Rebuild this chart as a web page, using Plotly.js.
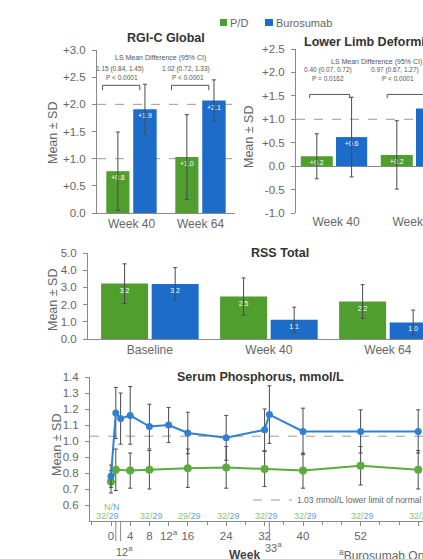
<!DOCTYPE html>
<html>
<head>
<meta charset="utf-8">
<script src="https://cdn.plot.ly/plotly-3.0.1.min.js"></script>
<style>html,body{margin:0;padding:0;background:#fff;overflow:hidden}#chart{width:423px;height:559px}</style>
</head>
<body>
<div id="chart"></div>
<script>
// ---------- data ----------
const barWeeks = ['Week 40', 'Week 64'];
const rgiPD = [0.77, 1.03];
const rgiPDsd = [0.72, 0.78];
const rgiBuro = [1.91, 2.07];
const rgiBuroSd = [0.46, 0.38];
const rgiDiff = ['1.15 (0.84, 1.45)', '1.02 (0.72, 1.33)'];
const rgiP = ['P < 0.0001', 'P < 0.0001'];

const llPD = [0.21, 0.24];
const llPDsd = [0.48, 0.73];
const llBuro = [0.62, 1.23];
const llBuroSd = [0.85, 0.80];
const llDiff = ['0.40 (0.07, 0.72)', '0.97 (0.67, 1.27)'];
const llP = ['P = 0.0162', 'P < 0.0001'];

const rssCats = ['Baseline', 'Week 40', 'Week 64'];
const rssPD = [3.22, 2.47, 2.18];
const rssPDsd = [1.15, 1.08, 0.98];
const rssBuro = [3.2, 1.12, 0.96];
const rssBuroSd = [0.95, 0.73, 0.72];

const phosWeeksBuro = [0, 1, 2, 4, 8, 12, 16, 24, 32, 33, 40, 52, 64];
const phosBuro = [0.78, 1.175, 1.14, 1.16, 1.09, 1.10, 1.05, 1.02, 1.07, 1.165, 1.06, 1.06, 1.06];
const phosBuroSd = [0.07, 0.16, 0.16, 0.18, 0.14, 0.11, 0.13, 0.14, 0.13, 0.18, 0.145, 0.135, 0.135];
const phosWeeksPD = [0, 1, 4, 8, 16, 24, 32, 40, 52, 64];
const phosPD = [0.745, 0.82, 0.815, 0.82, 0.83, 0.835, 0.825, 0.815, 0.845, 0.82];
const phosPDsd = [0.07, 0.13, 0.11, 0.12, 0.12, 0.13, 0.11, 0.11, 0.12, 0.12];
const lln = 1.03;

const phosTickVals = [0, 4, 8, 12, 16, 24, 32, 40, 52, 64];
const phosTickText = ['0', '4', '8', '12<sup>a</sup>', '16', '24', '32', '40', '52', '64'];
const buroOnlyWeeks = [1, 2, 33];

const nWeeks = [0, 8, 16, 24, 32, 40, 52, 64];
const nPD = [32, 32, 29, 32, 32, 32, 32, 32];
const nBuro = [29, 29, 29, 29, 29, 29, 29, 29];

// ---------- style ----------
const W = 423, H = 559;
const fx = p => p / W;
const fy = p => 1 - p / H;
const GREEN = '#4f9e2e', BLUE = '#1d6cc9';
const LGREEN = '#5cab3e', LBLUE = '#2f80d3';
const GRAY = '#666', AX = '#8a8a8a', ERR = '#4a4a4a';
const FONT = 'Liberation Sans, Arial, sans-serif';
const sgn = v => (v > 0 ? '+' : '') + v.toFixed(1);

function barTrace(x, y, sd, color, xa, ya, offset, width, labelFn, name) {
  return {
    type: 'bar', x: x, y: y, xaxis: xa, yaxis: ya, name: name, showlegend: false,
    marker: {color: color, line: {width: 0}}, offset: offset, width: width,
    error_y: {type: 'data', array: sd, visible: true, color: ERR, thickness: 1, width: 2},
    text: y.map(labelFn), textposition: 'inside', insidetextanchor: 'end',
    textfont: {size: 7, color: '#ffffff', family: FONT}, constraintext: 'none', textangle: 0,
    hoverinfo: 'none'
  };
}

const traces = [
  barTrace(barWeeks, rgiPD, rgiPDsd, GREEN, 'x', 'y', -0.365, 0.335, sgn, 'P/D'),
  barTrace(barWeeks, rgiBuro, rgiBuroSd, BLUE, 'x', 'y', 0.025, 0.34, sgn, 'Burosumab'),
  barTrace(barWeeks, llPD, llPDsd, GREEN, 'x2', 'y2', -0.44, 0.4, sgn, 'P/D'),
  barTrace(barWeeks, llBuro, llBuroSd, BLUE, 'x2', 'y2', 0.0, 0.39, sgn, 'Burosumab'),
  barTrace(rssCats, rssPD, rssPDsd, GREEN, 'x3', 'y3', -0.41, 0.395, v => v.toFixed(1), 'P/D'),
  barTrace(rssCats, rssBuro, rssBuroSd, BLUE, 'x3', 'y3', 0.015, 0.395, v => v.toFixed(1), 'Burosumab'),
  {
    type: 'scatter', mode: 'lines+markers', x: phosWeeksPD, y: phosPD, xaxis: 'x4', yaxis: 'y4',
    showlegend: false, line: {color: LGREEN, width: 2}, marker: {color: LGREEN, size: 8},
    error_y: {type: 'data', array: phosPDsd, visible: true, color: ERR, thickness: 1, width: 2}, cliponaxis: false
  },
  {
    type: 'scatter', mode: 'lines+markers', x: phosWeeksBuro, y: phosBuro, xaxis: 'x4', yaxis: 'y4',
    showlegend: false, line: {color: LBLUE, width: 2}, marker: {color: LBLUE, size: 7},
    error_y: {type: 'data', array: phosBuroSd, visible: true, color: ERR, thickness: 1, width: 2}, cliponaxis: false
  }
];

const TICKF = {size: 11.5, color: GRAY, family: FONT};
const yBase = {
  showline: true, linecolor: AX, linewidth: 1, ticks: 'outside', ticklen: 4, tickcolor: AX,
  showgrid: false, zeroline: false, tickfont: TICKF, ticklabelstandoff: 4
};
const xCat = {
  type: 'category', showgrid: false, zeroline: false, ticks: '', showline: true, linecolor: AX,
  tickfont: {size: 12, color: GRAY, family: FONT}
};

const rgiTicks = [0, 0.5, 1, 1.5, 2, 2.5, 3];
const llTicks = [-1, -0.5, 0, 0.5, 1, 1.5, 2, 2.5];
const rssTicks = [0, 1, 2, 3, 4, 5];
const phosTicks = [0.6, 0.7, 0.8, 0.9, 1.0, 1.1, 1.2, 1.3, 1.4];

const layout = {
  width: W, height: H, margin: {l: 0, r: 0, t: 0, b: 0},
  paper_bgcolor: '#fff', plot_bgcolor: 'rgba(0,0,0,0)',
  font: {family: FONT, color: GRAY},
  barmode: 'overlay', showlegend: false,
  xaxis: Object.assign({}, xCat, {domain: [fx(97), fx(235)], anchor: 'y', range: [-0.5, 1.5]}),
  yaxis: Object.assign({}, yBase, {domain: [fy(213), fy(50)], anchor: 'x', range: [0, 3],
    tickvals: rgiTicks, ticktext: rgiTicks.map(v => v === 0 ? '0.0' : sgn(v))}),
  xaxis2: Object.assign({}, xCat, {domain: [fx(296), 1], anchor: 'y2', range: [-0.5, 1.0875], showline: false}),
  yaxis2: Object.assign({}, yBase, {domain: [fy(213), fy(49)], anchor: 'x2', range: [-1, 2.5],
    zeroline: true, zerolinecolor: AX, zerolinewidth: 1,
    tickvals: llTicks, ticktext: llTicks.map(v => v === 0 ? '0.0' : sgn(v))}),
  xaxis3: Object.assign({}, xCat, {domain: [fx(88), 1], anchor: 'y3', range: [-0.52, 2.295]}),
  yaxis3: Object.assign({}, yBase, {domain: [fy(339), fy(253)], anchor: 'x3', range: [0, 5],
    tickvals: rssTicks, ticktext: rssTicks.map(v => v.toFixed(1))}),
  xaxis4: {domain: [fx(90), 1], anchor: 'y4', range: [-4.375, 65.0], showgrid: false, zeroline: false,
    showline: true, linecolor: AX, ticks: 'outside', ticklen: 4, tickcolor: AX,
    tickvals: phosTickVals, ticktext: phosTickText, tickfont: TICKF,
    minor: {ticks: 'outside', ticklen: 3, tickcolor: AX, dtick: 4, tick0: 0}},
  yaxis4: Object.assign({}, yBase, {domain: [fy(521), fy(377)], anchor: 'x4', range: [0.5, 1.4],
    tickvals: phosTicks, ticktext: phosTicks.map(v => v.toFixed(1))}),
  shapes: [],
  annotations: []
};

const S = layout.shapes, A = layout.annotations;
const dash = {color: '#9a9a9a', width: 1, dash: 'dash'};
// reference lines
[1, 2].forEach(v => S.push({type: 'line', xref: 'x domain', yref: 'y', x0: 0, x1: 1, y0: v, y1: v, line: dash, layer: 'below'}));
S.push({type: 'line', xref: 'x2 domain', yref: 'y2', x0: 0, x1: 1, y0: 1, y1: 1, line: dash, layer: 'below'});
S.push({type: 'line', xref: 'x4 domain', yref: 'y4', x0: 0, x1: 1, y0: lln, y1: lln, line: dash, layer: 'below'});

// brackets
function bracket(xa, ya, a, b, top, bot) {
  const ln = {color: '#555', width: 1};
  S.push({type: 'line', xref: xa, yref: ya, x0: a, x1: b, y0: top, y1: top, line: ln});
  S.push({type: 'line', xref: xa, yref: ya, x0: a, x1: a, y0: top, y1: bot, line: ln});
  S.push({type: 'line', xref: xa, yref: ya, x0: b, x1: b, y0: top, y1: bot, line: ln});
}
bracket('x', 'y', -0.42, 0.12, 2.35, 2.26);
bracket('x', 'y', 0.58, 1.12, 2.35, 2.26);
bracket('x2', 'y2', -0.33, 0.17, 1.53, 1.45);
bracket('x2', 'y2', 0.64, 1.14, 1.53, 1.45);

function txt(x, y, text, size, opts) {
  A.push(Object.assign({xref: 'paper', yref: 'paper', x: fx(x), y: fy(y), text: text, showarrow: false,
    font: {size: size, color: '#555', family: FONT}, xanchor: 'center', yanchor: 'middle'}, opts || {}));
}

// legend
S.push({type: 'rect', xref: 'paper', yref: 'paper', x0: fx(220), x1: fx(227), y0: fy(26), y1: fy(19), fillcolor: '#3fa33a', line: {width: 0}});
S.push({type: 'rect', xref: 'paper', yref: 'paper', x0: fx(265), x1: fx(273), y0: fy(26), y1: fy(19), fillcolor: BLUE, line: {width: 0}});
txt(228, 23, 'P/D', 11, {xanchor: 'left', font: {size: 11, color: GRAY, family: FONT}});
txt(274, 23, 'Burosumab', 11, {xanchor: 'left', font: {size: 11, color: GRAY, family: FONT}});

// titles
const tfont = {size: 12.5, color: '#333', family: FONT};
txt(166, 38, '<b>RGI-C Global</b>', 12.5, {font: tfont});
txt(302, 42, '<b>Lower Limb Deformity</b>', 12.5, {font: tfont, xanchor: 'left'});
txt(280, 253, '<b>RSS Total</b>', 12.5, {font: tfont});
txt(260, 377, '<b>Serum Phosphorus, mmol/L</b>', 12.5, {font: tfont});

// y titles
const yt = {textangle: -90, font: {size: 12.5, color: GRAY, family: FONT}};
txt(53, 133, 'Mean ± SD', 12.5, yt);
txt(249, 137, 'Mean ± SD', 12.5, yt);
txt(53, 300, 'Mean ± SD', 12.5, yt);
txt(57, 445, 'Mean ± SD', 12.5, yt);

// LS mean difference annotations
txt(160, 58, 'LS Mean Difference (95% CI)', 7);
txt(120, 69, rgiDiff[0], 6.5); txt(122, 77, rgiP[0], 6.5);
txt(186, 69, rgiDiff[1], 6.5); txt(188, 77, rgiP[1], 6.5);
txt(376, 62, 'LS Mean Difference (95% CI)', 7);
txt(328, 70, llDiff[0], 6.5); txt(328, 78, llP[0], 6.5);
txt(395, 70, llDiff[1], 6.5); txt(398, 78, llP[1], 6.5);

// serum phosphorus extras
buroOnlyWeeks.forEach(w => S.push({type: 'line', xref: 'x4', yref: 'paper', x0: w, x1: w, y0: fy(521), y1: fy(541), line: {color: AX, width: 1}}));
const f11 = {size: 11, color: GRAY, family: FONT};
txt(125, 551, '12<sup>a</sup>', 11, {font: f11});
txt(273, 547, '33<sup>a</sup>', 11, {font: f11});
txt(244, 555, '<b>Week</b>', 12, {font: {size: 12, color: '#444', family: FONT}});
txt(337, 555, '<sup>a</sup>Burosumab Only', 12, {xanchor: 'left', font: {size: 12, color: GRAY, family: FONT}});
S.push({type: 'line', xref: 'paper', yref: 'paper', x0: fx(253), x1: fx(292), y0: fy(500), y1: fy(500), line: dash});
txt(295, 500, '1.03 mmol/L lower limit of normal', 8.5, {xanchor: 'left', font: {size: 8.5, color: GRAY, family: FONT}});

const NG = '#8cc46e', NB = '#5fa3de';
A.push({xref: 'x4', yref: 'paper', x: 0, y: fy(507), xshift: 1, showarrow: false,
  text: `<span style="color:${NG}">N/</span><span style="color:${NB}">N</span>`,
  font: {size: 9, family: FONT}, xanchor: 'center', yanchor: 'middle'});
nWeeks.forEach((w, i) => {
  A.push({xref: 'x4', yref: 'paper', x: w, y: fy(516), xshift: i === 0 ? -4 : 2, showarrow: false,
    text: `<span style="color:${NG}">${nPD[i]}/</span><span style="color:${NB}">${nBuro[i]}</span>`,
    font: {size: 9, family: FONT}, xanchor: 'center', yanchor: 'middle'});
});

Plotly.newPlot('chart', traces, layout, {displayModeBar: false, staticPlot: true});
</script>
</body>
</html>
